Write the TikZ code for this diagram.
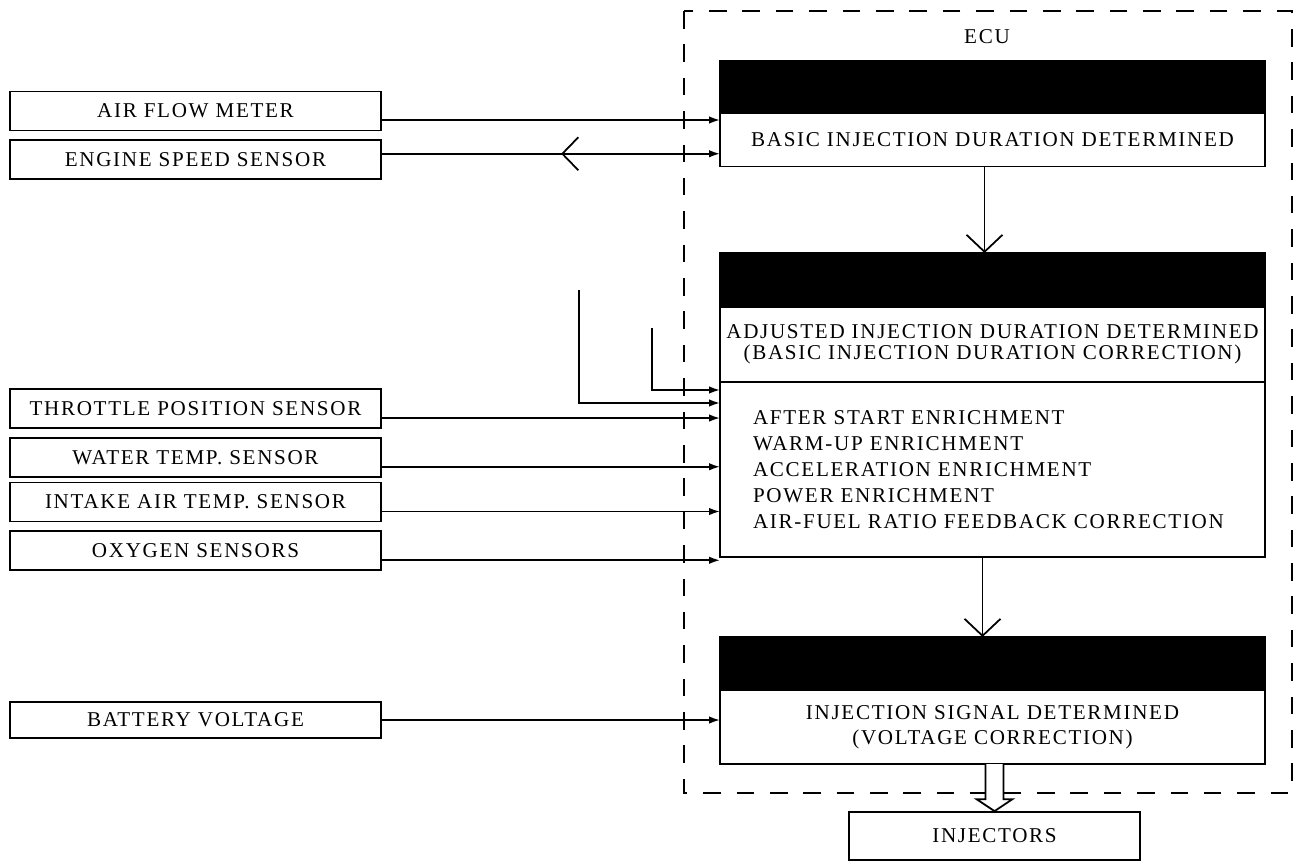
\documentclass[tikz,border=0pt]{standalone}
\usepackage{fontspec}
\setmainfont{Liberation Serif}[LetterSpace=8]
\usetikzlibrary{positioning,arrows.meta,decorations.markings}

\begin{document}
\begin{tikzpicture}[
    x=0.02cm, y=-0.02cm,
    font=\fontsize{12}{14}\selectfont,
    line width=1pt,
    sensor/.style={rectangle, draw, minimum width=7.42cm, minimum height=0.78cm, inner sep=0pt},
    bar/.style={rectangle, draw, fill=black, minimum width=10.9cm, minimum height=1.06cm, inner sep=0pt, outer sep=0pt},
    body/.style={rectangle, draw, minimum width=10.9cm, inner sep=0pt, outer sep=0pt, align=center},
    arrow/.style={-{Latex[length=2.2mm,width=1.5mm]}},
    flow/.style={-{Straight Barb[length=3.4mm,width=7.2mm]}},
    hollow/.style={draw, fill=white},
    ecuframe/.style={dash pattern=on 10pt off 9pt}
]
\useasboundingbox (0,0) rectangle (1297,867);

% sensors
\node[sensor] (afm) at (195.5,111) {AIR FLOW METER};
\node[sensor, below=0.16cm of afm] (ess) {ENGINE SPEED SENSOR};
\node[sensor] (tps) at (195.5,408.5) {THROTTLE POSITION SENSOR};
\node[sensor, below=0.16cm of tps] (wts) {WATER TEMP. SENSOR};
\node[sensor, below=0.08cm of wts] (iats) {INTAKE AIR TEMP. SENSOR};
\node[sensor, below=0.16cm of iats] (oxy) {OXYGEN SENSORS};
\node[sensor, minimum height=0.72cm] (batt) at (195.5,720) {BATTERY VOLTAGE};

% ECU
\draw[ecuframe] (684,11) rectangle (1292,793);
\node (ecu) at (987,37) {ECU};

\node[bar] (bar1) at (992.5,87) {};
\node[body, minimum height=1.06cm, below=0pt of bar1] (basic) {BASIC INJECTION DURATION DETERMINED};

\node[bar, minimum height=1.08cm] (bar2) at (992.5,280) {};
\node[body, minimum height=1.5cm, below=0pt of bar2] (adj) {ADJUSTED INJECTION DURATION DETERMINED\\[-2pt](BASIC INJECTION DURATION CORRECTION)};
\node[body, minimum height=3.5cm, below=0pt of adj, align=left, text width=9.58cm,
      font=\fontsize{12}{14.7}\selectfont] (corr) {AFTER START ENRICHMENT\\
WARM-UP ENRICHMENT\\
ACCELERATION ENRICHMENT\\
POWER ENRICHMENT\\
AIR-FUEL RATIO FEEDBACK CORRECTION};

\node[bar] (bar3) at (992.5,663.5) {};
\node[body, minimum height=1.48cm, below=0pt of bar3] (isd) {INJECTION SIGNAL DETERMINED\\(VOLTAGE CORRECTION)};

\node[sensor, minimum width=5.82cm, minimum height=0.96cm] (inj) at (994.5,836) {INJECTORS};

% signals into the ECU
\coordinate (afm-out) at ([yshift=-0.18cm]afm.east);
\coordinate (ess-out) at ([yshift=0.12cm]ess.east);
\draw[arrow] (afm-out) -- (afm-out -| basic.west);
\draw[arrow, postaction={decorate}, decoration={markings,
    mark=at position 0.53 with {\arrowreversed{Straight Barb[length=3.2mm,width=6.6mm]}}}]
    (ess-out) -- (ess-out -| basic.west);

\foreach \s in {tps,wts,iats,oxy} {
  \coordinate (\s-out) at ([yshift=-0.19cm]\s.east);
  \draw[arrow] (\s-out) -- (\s-out -| corr.west);
}

\coordinate (fb1) at (579,290);
\coordinate (fb2) at (652,328);
\draw[arrow] (fb1) |- ([yshift=1.33cm]corr.west);
\draw[arrow] (fb2) |- ([yshift=1.59cm]corr.west);

\draw[arrow] (batt.east) -- (batt.east -| isd.west);

% flow
\draw[flow] ([xshift=-0.16cm]basic.south) -- ([xshift=-0.16cm]bar2.north);
\draw[flow] ([xshift=-0.2cm]corr.south) -- ([xshift=-0.2cm]bar3.north);

\coordinate (out-top) at (isd.south -| inj.north);
\path[hollow] ([xshift=-0.18cm]out-top) -- ([xshift=-0.18cm,yshift=0.24cm]inj.north)
  -- ([xshift=-0.36cm,yshift=0.24cm]inj.north) -- (inj.north)
  -- ([xshift=0.36cm,yshift=0.24cm]inj.north) -- ([xshift=0.18cm,yshift=0.24cm]inj.north)
  -- ([xshift=0.18cm]out-top);
\end{tikzpicture}
\end{document}
